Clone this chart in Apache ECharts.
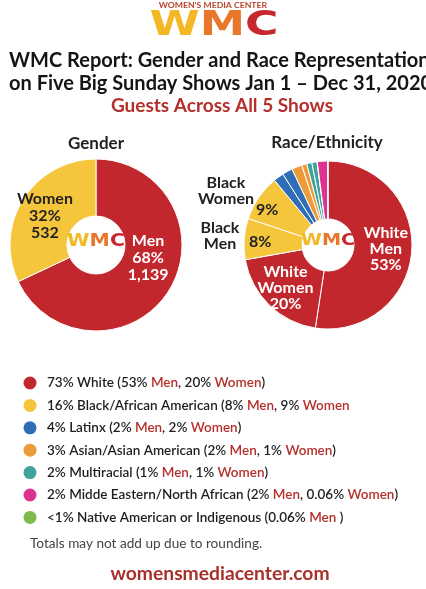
<!DOCTYPE html>
<html><head><meta charset="utf-8">
<script src="https://cdn.jsdelivr.net/npm/echarts@6/dist/echarts.min.js"></script>
<style>html,body{margin:0;padding:0;background:#fff}#c{width:426px;height:589px}</style>
</head><body><div id="c"></div>
<script>
// ---- data ----
const genderNames = ['Men', 'Women'];
const genderValues = [68, 32];
const genderCounts = ['1,139', '532'];

const raceNames = ['White Men', 'White Women', 'Black Men', 'Black Women',
  'Latinx Men', 'Latinx Women', 'Asian Men', 'Asian Women',
  'Multiracial Men', 'Multiracial Women', 'Native American Men',
  'Middle Eastern Men', 'Middle Eastern Women'];
const raceValues = [53, 20, 8, 9, 2, 2, 2, 1, 1, 1, 0.06, 2, 0.06];
const raceGroup = ['white', 'white', 'black', 'black', 'latinx', 'latinx', 'asian', 'asian',
  'multi', 'multi', 'native', 'mena', 'mena'];
const raceLabels = ['White\nMen\n53%', 'White\nWomen\n20%', '8%', '9%', '', '', '', '', '', '', '', '', ''];

const legendGroups = ['white', 'black', 'latinx', 'asian', 'multi', 'mena', 'native'];
const legendTexts = [
  '73% White (53% {r|Men}, 20% {r|Women})',
  '16% Black/African American (8% {r|Men}, 9% {r|Women}',
  '4% Latinx (2% {r|Men}, 2% {r|Women})',
  '3% Asian/Asian American (2% {r|Men}, 1% {r|Women})',
  '2% Multiracial (1% {r|Men}, 1% {r|Women})',
  '2% Midde Eastern/North African (2% {r|Men}, 0.06% {r|Women})',
  '<1% Native American or Indigenous (0.06% {r|Men} )'
];

// ---- styles ----
const groupColors = {
  white: '#c1272d', black: '#f5c53c', latinx: '#2f6db6', asian: '#ec9b3b',
  multi: '#3da39b', mena: '#dd3290', native: '#7db94b'
};
const genderColors = ['#c1272d', '#f5c53c'];
const FONT = 'Lato';
const RED_TXT = '#b5302c';

const chart = echarts.init(document.getElementById('c'), null, {renderer: 'canvas'});

const genderShift = [[1, -20], [0, 3]];
const raceShift = [[0, -1], [-2, 1], [-10, 1], [-13, -2]];

function logo(x, y, size, sx) {
  return {
    type: 'text', x: x, y: y, z: 20, scaleX: sx,
    style: {
      text: '{w|W}{m|M}{c|C}', align: 'center', verticalAlign: 'middle',
      rich: {
        w: {fill: '#f3b824', fontSize: size, fontWeight: 'bold', fontFamily: 'DejaVu Sans'},
        m: {fill: '#e8772b', fontSize: size, fontWeight: 'bold', fontFamily: 'DejaVu Sans'},
        c: {fill: '#c6282e', fontSize: size, fontWeight: 'bold', fontFamily: 'DejaVu Sans'}
      }
    }
  };
}

const graphics = [
  {type: 'text', x: 213, y: 6, scaleX: 1.24, style: {text: "WOMEN'S MEDIA CENTER", align: 'center', verticalAlign: 'middle',
    fill: '#b9432f', font: 'bold 7px ' + FONT}},
  logo(214, 26, 33, 1.38),
  {type: 'text', x: 9, y: 61, style: {text: 'WMC Report: Gender and Race Representation', verticalAlign: 'middle',
    fill: '#151515', font: 'bold 20px ' + FONT}},
  {type: 'text', x: 9, y: 84, style: {text: 'on Five Big Sunday Shows Jan 1 \u2013 Dec 31, 2020', verticalAlign: 'middle',
    fill: '#151515', font: 'bold 20px ' + FONT}},
  {type: 'text', x: 222, y: 106, style: {text: 'Guests Across All 5 Shows', align: 'center', verticalAlign: 'middle',
    fill: RED_TXT, font: 'bold 19px ' + FONT}},
  {type: 'text', x: 96, y: 144, style: {text: 'Gender', align: 'center', verticalAlign: 'middle',
    fill: '#222', font: 'bold 17px ' + FONT}},
  {type: 'text', x: 327, y: 143, style: {text: 'Race/Ethnicity', align: 'center', verticalAlign: 'middle',
    fill: '#222', font: 'bold 17px ' + FONT}},
  {type: 'text', x: 226, y: 191, style: {text: 'Black\nWomen', align: 'center', verticalAlign: 'middle',
    fill: '#222', font: 'bold 16px ' + FONT, lineHeight: 16}},
  {type: 'text', x: 220, y: 236, style: {text: 'Black\nMen', align: 'center', verticalAlign: 'middle',
    fill: '#222', font: 'bold 16px ' + FONT, lineHeight: 16}},
  logo(96, 242, 17, 1.2),
  logo(328, 241, 16, 1.2),
  {type: 'text', x: 30, y: 544, style: {text: 'Totals may not add up due to rounding.', verticalAlign: 'middle',
    fill: '#444', font: '13.6px ' + FONT}},
  {type: 'text', x: 220, y: 574, style: {text: 'womensmediacenter.com', align: 'center', verticalAlign: 'middle',
    fill: '#a8302b', font: 'bold 19.3px ' + FONT}}
];

const rowY0 = 383, rowGap = 22.4;
legendGroups.forEach((g, i) => {
  const y = rowY0 + i * rowGap;
  graphics.push({type: 'circle', shape: {cx: 30, cy: y, r: 6.5}, style: {fill: groupColors[g]}});
  graphics.push({type: 'text', x: 47, y: y, style: {
    text: legendTexts[i], verticalAlign: 'middle', fill: '#1e1e1e', font: '600 13.5px ' + FONT,
    rich: {r: {fill: RED_TXT, font: '600 13.5px ' + FONT}}
  }});
});

chart.setOption({
  animation: false,
  backgroundColor: '#fff',
  graphic: graphics,
  series: [
    {
      type: 'pie', center: [96, 245], radius: [29, 86], startAngle: 90, clockwise: true,
      itemStyle: {borderColor: '#fff', borderWidth: 1},
      data: genderNames.map((n, i) => ({
        name: n, value: genderValues[i],
        itemStyle: {color: genderColors[i]},
        label: {color: i === 0 ? '#fff' : '#222'}
      })),
      label: {
        show: true, position: 'inside', fontFamily: FONT, fontWeight: 'bold', fontSize: 16, lineHeight: 17,
        formatter: p => p.name + '\n' + p.value + '%\n' + genderCounts[p.dataIndex]
      },
      labelLayout: p => ({dx: genderShift[p.dataIndex][0], dy: genderShift[p.dataIndex][1]}),
      emphasis: {disabled: true}
    },
    {
      type: 'pie', center: [328, 245], radius: [26, 84], startAngle: 90, clockwise: true,
      itemStyle: {borderColor: '#fff', borderWidth: 1},
      data: raceNames.map((n, i) => ({
        name: n, value: raceValues[i],
        itemStyle: {color: groupColors[raceGroup[i]]},
        label: {show: raceLabels[i] !== '', color: raceGroup[i] === 'white' ? '#fff' : '#222'}
      })),
      label: {
        show: true, position: 'inside', fontFamily: FONT, fontWeight: 'bold', fontSize: 16, lineHeight: 16,
        formatter: p => raceLabels[p.dataIndex]
      },
      labelLayout: p => raceShift[p.dataIndex] ? {dx: raceShift[p.dataIndex][0], dy: raceShift[p.dataIndex][1]} : {},
      emphasis: {disabled: true}
    }
  ]
});
</script></body></html>
